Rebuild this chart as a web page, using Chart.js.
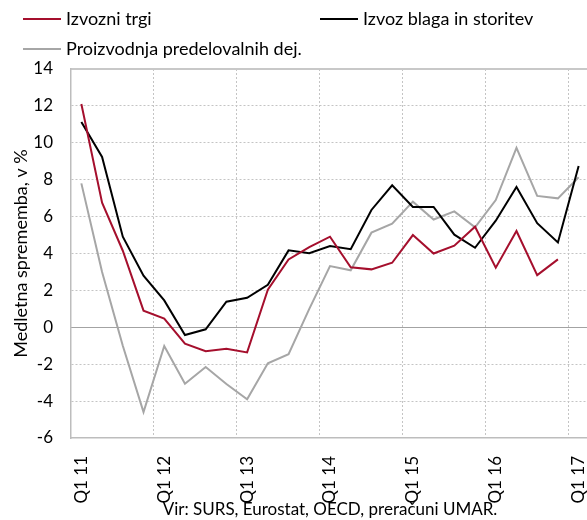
<!DOCTYPE html>
<html>
<head>
<meta charset="utf-8">
<script src="https://cdn.jsdelivr.net/npm/chart.js@4/dist/chart.umd.min.js"></script>
<style>
html,body{margin:0;padding:0;background:#fff;overflow:hidden;width:587px;height:520px}
#c{display:block}
</style>
</head>
<body>
<canvas id="c" width="589" height="520" style="width:589px;height:520px"></canvas>
<script>
// ---- data ----
const quarters = [
  'Q1 11','Q2 11','Q3 11','Q4 11',
  'Q1 12','Q2 12','Q3 12','Q4 12',
  'Q1 13','Q2 13','Q3 13','Q4 13',
  'Q1 14','Q2 14','Q3 14','Q4 14',
  'Q1 15','Q2 15','Q3 15','Q4 15',
  'Q1 16','Q2 16','Q3 16','Q4 16',
  'Q1 17'
];
const izvozniTrgi = [12.1, 6.75, 4.15, 0.9, 0.47, -0.89, -1.3, -1.16, -1.36, 2.04, 3.68, 4.34, 4.91, 3.25, 3.14, 3.5, 5.0, 4.0, 4.42, 5.45, 3.23, 5.22, 2.83, 3.68, null];
const izvozBlagaInStoritev = [11.13, 9.23, 4.91, 2.8, 1.46, -0.42, -0.11, 1.39, 1.6, 2.3, 4.17, 4.01, 4.41, 4.23, 6.36, 7.7, 6.52, 6.52, 5.02, 4.31, 5.78, 7.6, 5.64, 4.6, 8.74];
const proizvodnjaPredelovalnihDej = [7.8, 3.0, -1.0, -4.6, -1.01, -3.06, -2.15, -3.07, -3.9, -1.95, -1.46, 1.0, 3.32, 3.09, 5.13, 5.62, 6.81, 5.84, 6.28, 5.42, 6.9, 9.72, 7.12, 6.99, 8.13];
const yTickValues = [-6, -4, -2, 0, 2, 4, 6, 8, 10, 12, 14];
const seriesLabels = ['Izvozni trgi', 'Izvoz blaga in storitev', 'Proizvodnja predelovalnih dej.'];
const yAxisTitle = 'Medletna sprememba, v %';
const sourceNote = 'Vir: SURS, Eurostat, OECD, preračuni UMAR.';

// ---- styling ----
const FONT = 'Lato, "Open Sans", "Noto Sans", sans-serif';
const FS = 17;
const FS_BIG = 18;
const GRID = '#c4c4c4';
const AXIS = '#bdbdbd';
const CLEAR = 'rgba(0,0,0,0)';

const legendPlugin = {
  id: 'fixedLegend',
  afterDraw(chart) {
    const ctx = chart.ctx;
    const slots = [[23, 19], [320, 19], [23, 49]];
    ctx.save();
    ctx.font = FS_BIG + 'px ' + FONT;
    ctx.textBaseline = 'middle';
    ctx.textAlign = 'left';
    chart.data.datasets.forEach((ds, i) => {
      const [x, y] = slots[i];
      ctx.strokeStyle = ds.borderColor;
      ctx.lineWidth = 2;
      ctx.beginPath();
      ctx.moveTo(x, y);
      ctx.lineTo(x + 38, y);
      ctx.stroke();
      ctx.fillStyle = '#000';
      ctx.fillText(ds.label, x + 43, y);
    });
    ctx.restore();
  }
};

const lineStyle = (color) => ({
  borderColor: color, backgroundColor: color, borderWidth: 2,
  pointRadius: 0, tension: 0, fill: false, spanGaps: false
});

new Chart(document.getElementById('c'), {
  type: 'line',
  data: {
    labels: quarters,
    datasets: [
      Object.assign({ label: seriesLabels[0], data: izvozniTrgi }, lineStyle('#a50f2d')),
      Object.assign({ label: seriesLabels[1], data: izvozBlagaInStoritev }, lineStyle('#000000')),
      Object.assign({ label: seriesLabels[2], data: proizvodnjaPredelovalnihDej }, lineStyle('#a6a6a6'))
    ]
  },
  options: {
    responsive: false,
    animation: false,
    devicePixelRatio: 1,
    layout: { padding: { top: 69, left: 0, right: 0, bottom: 0 } },
    plugins: { legend: { display: false }, tooltip: { enabled: false } },
    scales: {
      x: {
        type: 'category',
        offset: true,
        ticks: {
          autoSkip: false, minRotation: 90, maxRotation: 90, padding: 18,
          color: '#000', font: { size: FS, family: FONT },
          callback: (v, i) => (i % 4 === 0 ? quarters[i] : '')
        },
        grid: {
          offset: true, drawTicks: false, lineWidth: 1,
          color: (c) => (c.index > 0 && c.index % 4 === 0 ? GRID : CLEAR)
        },
        border: { color: AXIS, width: 1.5, dash: [2, 2] },
        title: {
          display: true, text: sourceNote, color: '#000',
          font: { size: FS, family: FONT }, padding: { top: 0, bottom: 0 }
        },
        afterFit: (s) => { s.height = 82; s.paddingLeft = 0; s.paddingRight = 0; }
      },
      y: {
        position: 'left',
        min: -6, max: 14,
        afterBuildTicks: (s) => { s.ticks = yTickValues.map(v => ({ value: v })); },
        ticks: { color: '#000', font: { size: FS, family: FONT }, padding: 18 },
        grid: {
          drawTicks: false, lineWidth: 1,
          color: (c) => (c.tick && (c.tick.value === 0 || c.tick.value === 14 || c.tick.value === -6) ? CLEAR : GRID)
        },
        border: { color: AXIS, width: 1.5, dash: [2, 2] },
        title: {
          display: true, text: yAxisTitle, color: '#000',
          font: { size: FS_BIG, family: FONT }, padding: { top: 10, bottom: 0 }
        },
        afterFit: (s) => { s.width = 71; }
      },
      y2: {
        position: 'right',
        min: -6, max: 14,
        afterBuildTicks: (s) => { s.ticks = yTickValues.map(v => ({ value: v })); },
        ticks: { display: false },
        grid: {
          drawTicks: false,
          color: (c) => (c.tick && c.tick.value === 0 ? '#a3a3a3' : (c.tick && c.tick.value === 14 ? '#c8c8c8' : CLEAR)),
          lineWidth: (c) => (c.tick && c.tick.value === 14 ? 2 : 1)
        },
        border: { display: false },
        afterFit: (s) => { s.width = 0; }
      }
    }
  },
  plugins: [legendPlugin]
});
</script>
</body>
</html>
